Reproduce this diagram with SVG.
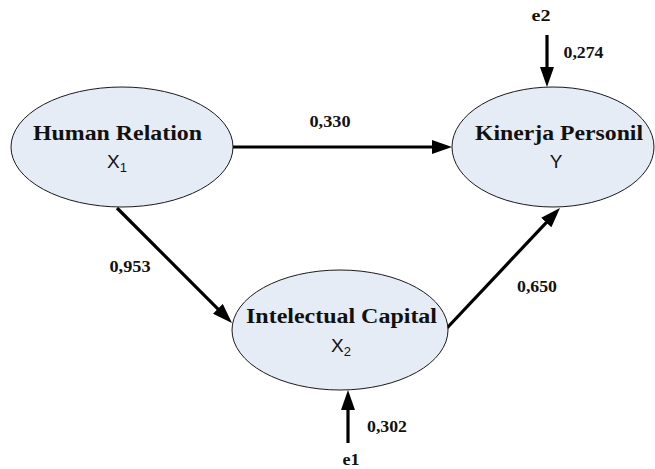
<svg xmlns="http://www.w3.org/2000/svg" width="655" height="469" viewBox="0 0 655 469">
<style>
.node ellipse{fill:#e6ecf6;stroke:#1a1a1a;stroke-width:1}
.title{font-family:"Liberation Serif","Times New Roman",serif;font-weight:bold;font-size:20px;text-anchor:middle;fill:#111}
.sym{font-family:"Liberation Sans",Arial,sans-serif;font-size:19px;text-anchor:middle;fill:#111}
.sub{font-size:13px}
.lbl{font-family:"Liberation Serif","Times New Roman",serif;font-weight:bold;font-size:16px;text-anchor:middle;fill:#111}
.edge{stroke:#000;stroke-width:3.2;fill:none;marker-end:url(#ah)}
</style>
<defs>
<marker id="ah" viewBox="0 0 20 14" refX="12" refY="7" markerWidth="20" markerHeight="14" markerUnits="userSpaceOnUse" orient="auto">
<path d="M0,0 L20,7 L0,14 Z" fill="#000"/>
</marker>
</defs>
<rect width="655" height="469" fill="#fff"/>
<g id="connectors">
<line class="edge" x1="233" y1="147" x2="444" y2="147"/>
<line class="edge" x1="117" y1="208" x2="226.3" y2="317.3"/>
<line class="edge" x1="447" y1="328" x2="554.5" y2="213.8"/>
<line class="edge" x1="547" y1="35" x2="547" y2="79"/>
<line class="edge" x1="348" y1="443" x2="348" y2="398"/>
</g>
<g id="human-relation" class="node">
<ellipse cx="122" cy="147" rx="111" ry="60"/>
<text class="title" x="117.5" y="140" textLength="169" lengthAdjust="spacingAndGlyphs">Human Relation</text>
<text class="sym" x="117" y="168">X<tspan class="sub" dy="4">1</tspan></text>
</g>
<g id="kinerja-personil" class="node">
<ellipse cx="553" cy="147" rx="101" ry="60"/>
<text class="title" x="559" y="140" textLength="168" lengthAdjust="spacingAndGlyphs">Kinerja Personil</text>
<text class="sym" x="556" y="168">Y</text>
</g>
<g id="intelectual-capital" class="node">
<ellipse cx="340" cy="330" rx="108" ry="60"/>
<text class="title" x="341.5" y="323" textLength="191" lengthAdjust="spacingAndGlyphs">Intelectual Capital</text>
<text class="sym" x="341" y="352">X<tspan class="sub" dy="4">2</tspan></text>
</g>
<g id="e2">
<text class="lbl" x="541" y="21" textLength="19" lengthAdjust="spacingAndGlyphs">e2</text>
</g>
<g id="e1">
<text class="lbl" x="351" y="465" textLength="17" lengthAdjust="spacingAndGlyphs">e1</text>
</g>
<g id="labels">
<text class="lbl" x="330" y="127" textLength="41" lengthAdjust="spacingAndGlyphs">0,330</text>
<text class="lbl" x="130" y="272" textLength="41" lengthAdjust="spacingAndGlyphs">0,953</text>
<text class="lbl" x="583.5" y="58" textLength="40" lengthAdjust="spacingAndGlyphs">0,274</text>
<text class="lbl" x="537" y="292" textLength="40" lengthAdjust="spacingAndGlyphs">0,650</text>
<text class="lbl" x="387" y="432" textLength="40" lengthAdjust="spacingAndGlyphs">0,302</text>
</g>
</svg>
